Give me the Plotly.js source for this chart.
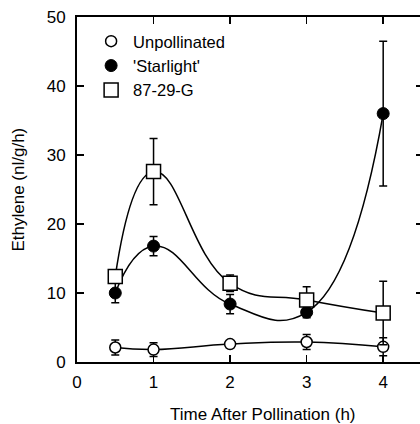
<!DOCTYPE html>
<html>
<head>
<meta charset="utf-8">
<script src="https://cdn.plot.ly/plotly-3.0.1.min.js"></script>
<style>
html,body{margin:0;padding:0;background:#fff;overflow:hidden;}
#chart{width:424px;height:424px;}
</style>
</head>
<body>
<div id="chart"></div>
<script>
const times = [0.5, 1, 2, 3, 4];
const unpollinated = [2.1, 1.8, 2.6, 2.9, 2.2];
const unpollinatedErr = [1.1, 1.0, 0.3, 1.1, 1.3];
const starlight = [10.0, 16.8, 8.4, 7.2, 36.0];
const starlightErr = [1.4, 1.4, 1.4, 0.8, 10.5];
const g87 = [12.4, 27.6, 11.4, 9.0, 7.1];
const g87Err = [0.8, 4.8, 1.2, 1.9, 4.6];
const seriesNames = ["Unpollinated", "'Starlight'", "87-29-G"];
const xTicks = [0, 1, 2, 3, 4];
const yTicks = [0, 10, 20, 30, 40, 50];

const FONT = {family: 'Liberation Sans, Arial, sans-serif', size: 17, color: '#000'};
const LFONT = {family: 'Liberation Sans, Arial, sans-serif', size: 16.5, color: '#000'};
const lineStyle = {color: '#000', width: 1.5, shape: 'spline', smoothing: 1.3};
const errStyle = (arr) => ({type: 'data', array: arr, visible: true, color: '#000', thickness: 1.5, width: 4});

const markerDefs = [
  {symbol: 'circle', size: 11, color: '#fff', line: {color: '#000', width: 1.5}},
  {symbol: 'circle', size: 12, color: '#000', line: {color: '#000', width: 1}},
  {symbol: 'square', size: 14, color: '#fff', line: {color: '#000', width: 1.5}}
];
const ys = [unpollinated, starlight, g87];
const errs = [unpollinatedErr, starlightErr, g87Err];

const traces = [];
for (let i = 0; i < 3; i++) {
  traces.push({
    x: times, y: ys[i], type: 'scatter', mode: 'lines+markers',
    line: lineStyle, marker: markerDefs[i], error_y: errStyle(errs[i]),
    showlegend: false, name: seriesNames[i], cliponaxis: false
  });
}
for (let i = 0; i < 3; i++) {
  traces.push({
    x: [null], y: [null], type: 'scatter', mode: 'markers',
    marker: markerDefs[i], name: seriesNames[i], showlegend: true
  });
}

const layout = {
  width: 424, height: 424,
  margin: {l: 77, r: 1, t: 17, b: 62},
  paper_bgcolor: '#fff', plot_bgcolor: '#fff',
  font: FONT,
  showlegend: true,
  legend: {x: 0.035, y: 0.98, xanchor: 'left', yanchor: 'top', bgcolor: 'rgba(0,0,0,0)',
           font: LFONT, borderwidth: 0, itemwidth: 34},
  xaxis: {
    range: [0, 4.52], tickvals: xTicks, ticktext: xTicks.map(String),
    showline: true, linecolor: '#000', linewidth: 2, mirror: 'ticks',
    ticks: 'inside', ticklen: 7, tickwidth: 1.5, tickcolor: '#000',
    showgrid: false, zeroline: false, ticklabelstandoff: 4, tickfont: FONT
  },
  yaxis: {
    range: [0, 50], tickvals: yTicks, ticktext: yTicks.map(String),
    showline: true, linecolor: '#000', linewidth: 2, mirror: 'ticks',
    ticks: 'inside', ticklen: 7, tickwidth: 1.5, tickcolor: '#000',
    showgrid: false, zeroline: false, ticklabelstandoff: 6, tickfont: FONT
  },
  annotations: [
    {text: 'Time After Pollination (h)', xref: 'paper', yref: 'paper',
     x: 0.5376, y: -0.152, xanchor: 'center', yanchor: 'middle', showarrow: false, font: FONT},
    {text: 'Ethylene (nl/g/h)', xref: 'paper', yref: 'paper',
     x: -0.1705, y: 0.5, xanchor: 'center', yanchor: 'middle', textangle: -90, showarrow: false, font: FONT}
  ]
};

Plotly.newPlot('chart', traces, layout, {displayModeBar: false, staticPlot: true});
</script>
</body>
</html>
